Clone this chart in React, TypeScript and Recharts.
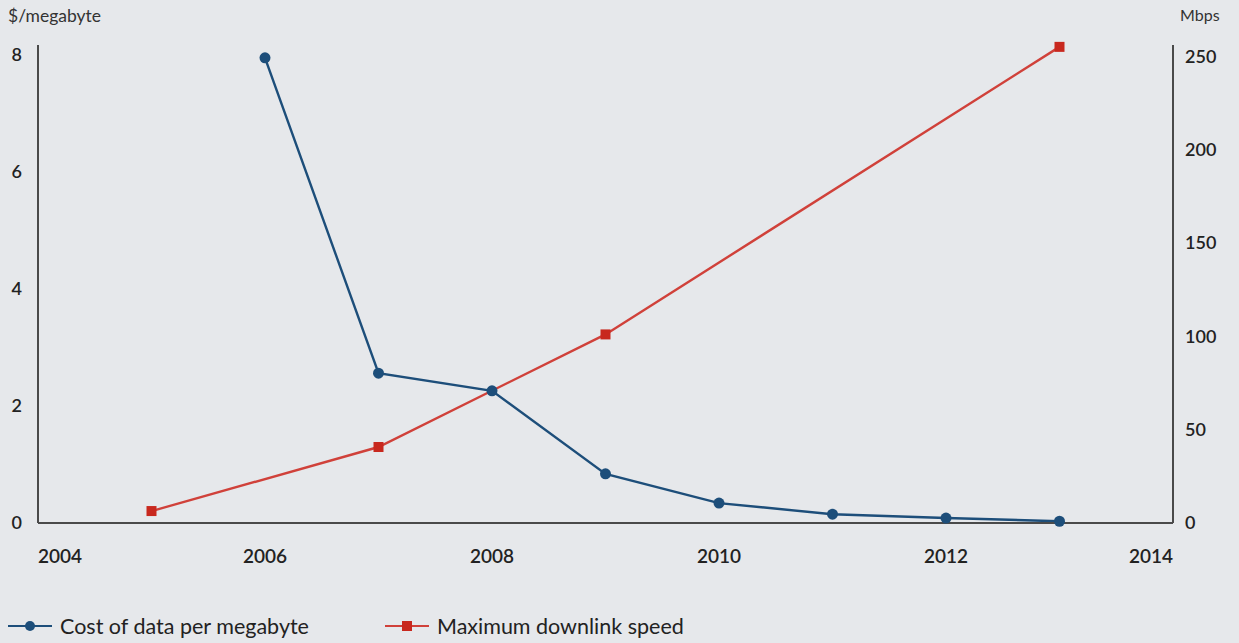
import { LineChart, Line, XAxis, YAxis } from "recharts";

const years = [2005, 2006, 2007, 2008, 2009, 2010, 2011, 2012, 2013];
const costPerMegabyte = [null, 7.95, 2.56, 2.26, 0.84, 0.34, 0.15, 0.085, 0.03];
const downlinkSpeed = [6.4, null, 40.7, null, 101, null, null, null, 255];
const xTicks = [2004, 2006, 2008, 2010, 2012, 2014];
const leftTicks = [0, 2, 4, 6, 8];
const rightTicks = [0, 50, 100, 150, 200, 250];
const costName = "Cost of data per megabyte";
const speedName = "Maximum downlink speed";

const BLUE = "#1d4e7a";
const RED = "#c8281e";
const AXIS = "#4a4a4a";
const FONT = "Lato, 'Open Sans', sans-serif";

const data = years.map((year, i) => ({
  year,
  cost: costPerMegabyte[i],
  speed: downlinkSpeed[i],
}));

function XTick({ x, y, payload }: any) {
  const v = payload.value;
  const anchor = v === 2004 ? "start" : v === 2014 ? "end" : "middle";
  return (
    <text x={x} y={y + 32} textAnchor={anchor} fill="#222" fontSize={19} fontWeight={600} fontFamily={FONT}>
      {v}
    </text>
  );
}

function Square({ cx, cy }: any) {
  if (cx == null || cy == null) return null;
  return <rect x={cx - 5} y={cy - 5} width={10} height={10} fill={RED} />;
}

export default function App() {
  return (
    <div style={{ position: "relative", width: 1239, height: 643, background: "#e6e8eb", fontFamily: FONT }}>
      <style>{`body{margin:0}`}</style>
      <div style={{ position: "absolute", left: 8, top: 5, fontSize: 17.5, color: "#333" }}>$/megabyte</div>
      <div style={{ position: "absolute", left: 1180, top: 5, fontSize: 16, color: "#333" }}>Mbps</div>
      <LineChart width={1239} height={643} data={data} margin={{ top: 45, right: 6, bottom: 0, left: 8 }}>
        <XAxis
          dataKey="year"
          type="number"
          domain={[2004, 2014]}
          ticks={xTicks}
          tickLine={false}
          axisLine={{ stroke: AXIS, strokeWidth: 2 }}
          tick={<XTick />}
          height={120}
        />
        <YAxis
          yAxisId="left"
          domain={[0, 8.17]}
          ticks={leftTicks}
          width={30}
          tickLine={false}
          tickMargin={10}
          axisLine={{ stroke: AXIS, strokeWidth: 2 }}
          tick={{ fill: "#222", fontSize: 18, fontWeight: 600, fontFamily: FONT }}
        />
        <YAxis
          yAxisId="right"
          orientation="right"
          domain={[0, 256]}
          ticks={rightTicks}
          width={60}
          tickLine={false}
          tickMargin={6}
          axisLine={{ stroke: AXIS, strokeWidth: 2 }}
          tick={{ fill: "#222", fontSize: 18, fontWeight: 600, fontFamily: FONT, textAnchor: "start" }}
        />
        <Line
          yAxisId="right"
          dataKey="speed"
          name={speedName}
          stroke="#d0413a"
          strokeWidth={2.4}
          connectNulls
          dot={<Square />}
          activeDot={false}
          isAnimationActive={false}
        />
        <Line
          yAxisId="left"
          dataKey="cost"
          name={costName}
          stroke={BLUE}
          strokeWidth={2.4}
          connectNulls
          dot={{ r: 5.5, fill: BLUE, stroke: BLUE, strokeWidth: 0 }}
          activeDot={false}
          isAnimationActive={false}
        />
      </LineChart>
      <div style={{ position: "absolute", left: 8, top: 613, display: "flex", alignItems: "center", fontSize: 21.5, color: "#222" }}>
        <svg width={44} height={14} style={{ marginRight: 8 }}>
          <line x1={0} y1={7} x2={44} y2={7} stroke={BLUE} strokeWidth={2} />
          <circle cx={22} cy={7} r={5} fill={BLUE} />
        </svg>
        {costName}
      </div>
      <div style={{ position: "absolute", left: 385, top: 613, display: "flex", alignItems: "center", fontSize: 21.5, color: "#222" }}>
        <svg width={44} height={14} style={{ marginRight: 8 }}>
          <line x1={0} y1={7} x2={44} y2={7} stroke="#d0413a" strokeWidth={2} />
          <rect x={17} y={2} width={10} height={10} fill={RED} />
        </svg>
        {speedName}
      </div>
    </div>
  );
}
